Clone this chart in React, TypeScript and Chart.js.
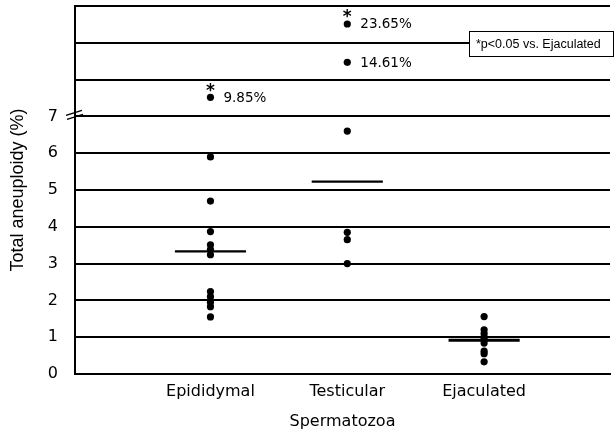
import React, { useEffect, useRef } from "react";
import { Chart, registerables } from "chart.js";

Chart.register(...registerables);

const categories = ["Epididymal", "Testicular", "Ejaculated"];
const epididymal = [9.85, 5.9, 4.7, 3.87, 3.51, 3.38, 3.24, 2.24, 2.1, 1.95, 1.83, 1.55];
const testicular = [23.65, 14.61, 6.6, 3.85, 3.65, 3.0];
const ejaculated = [1.56, 1.2, 1.1, 1.0, 0.93, 0.84, 0.62, 0.55, 0.33];
const medians = [3.33, 5.23, 0.92];
const yTickLabels = ["0", "1", "2", "3", "4", "5", "6", "7"];
// broken axis: real value knots -> display position knots
const breakReal = [7, 12.5, 17, 30];
const breakDisplay = [7, 8, 9, 10];
const labelledValues = [9.85, 14.61, 23.65];
const starredValues = [9.85, 23.65];
const noteText = "*p<0.05 vs. Ejaculated";
const yTitle = "Total aneuploidy (%)";
const xTitle = "Spermatozoa";

const groups = [epididymal, testicular, ejaculated];

function toDisplay(v: number): number {
  if (v <= breakReal[0]) return v;
  for (let i = 1; i < breakReal.length; i++) {
    if (v <= breakReal[i]) {
      const t = (v - breakReal[i - 1]) / (breakReal[i] - breakReal[i - 1]);
      return breakDisplay[i - 1] + t * (breakDisplay[i] - breakDisplay[i - 1]);
    }
  }
  return breakDisplay[breakDisplay.length - 1];
}

const annotPlugin = {
  id: "annot",
  afterDatasetsDraw(chart: any) {
    const ctx = chart.ctx;
    const xs = chart.scales.x;
    const ys = chart.scales.y;
    ctx.save();
    ctx.fillStyle = "#000";
    ctx.strokeStyle = "#000";
    groups.forEach((g, gi) => {
      g.forEach((v) => {
        const px = xs.getPixelForValue(gi + 1);
        const py = ys.getPixelForValue(toDisplay(v));
        if (labelledValues.includes(v)) {
          ctx.font = "13.5px 'DejaVu Sans'";
          ctx.textAlign = "left";
          ctx.textBaseline = "middle";
          ctx.fillText(v.toFixed(2) + "%", px + 13, py + 1);
        }
        if (starredValues.includes(v)) {
          ctx.font = "bold 17px 'DejaVu Sans'";
          ctx.textAlign = "center";
          ctx.textBaseline = "middle";
          ctx.fillText("*", px, py - 6);
        }
      });
    });
    // break mark on the y axis at 7
    const ax = chart.chartArea.left;
    const by = ys.getPixelForValue(breakReal[0]);
    ctx.lineWidth = 1.5;
    ctx.beginPath();
    ctx.moveTo(ax - 9, by - 1);
    ctx.lineTo(ax + 7, by - 6);
    ctx.moveTo(ax - 8, by + 3);
    ctx.lineTo(ax + 8, by - 2);
    ctx.stroke();
    // note box
    const bx = 469, bw = 144, byTop = 31, bh = 25;
    ctx.fillStyle = "#fff";
    ctx.fillRect(bx, byTop, bw, bh);
    ctx.lineWidth = 1;
    ctx.strokeStyle = "#000";
    ctx.strokeRect(bx + 0.5, byTop + 0.5, bw, bh);
    ctx.fillStyle = "#000";
    ctx.font = "12.5px 'Liberation Sans'";
    ctx.textAlign = "left";
    ctx.textBaseline = "middle";
    ctx.fillText(noteText, bx + 7, byTop + bh / 2 + 1);
    ctx.restore();
  },
};

export default function App() {
  const ref = useRef<HTMLCanvasElement | null>(null);
  useEffect(() => {
    if (!ref.current) return;
    const pointSets = groups.map((g, gi) => ({
      type: "scatter" as const,
      data: g.map((v) => ({ x: gi + 1, y: toDisplay(v) })),
      pointRadius: 3.6,
      pointBackgroundColor: "#000",
      pointBorderWidth: 0,
      showLine: false,
    }));
    const medianSets = medians.map((m, i) => ({
      type: "line" as const,
      data: [
        { x: i + 1 - 0.26, y: toDisplay(m) },
        { x: i + 1 + 0.26, y: toDisplay(m) },
      ],
      borderColor: "#000",
      borderWidth: i === 2 ? 3 : 2.2,
      pointRadius: 0,
      fill: false,
    }));
    const chart = new Chart(ref.current, {
      type: "scatter",
      data: { datasets: [...medianSets, ...pointSets] as any },
      options: {
        animation: false,
        responsive: false,
        layout: { padding: { top: 6, right: 0, left: 0, bottom: 0 } },
        plugins: { legend: { display: false }, tooltip: { enabled: false } },
        scales: {
          x: {
            type: "linear",
            min: 0.01,
            max: 3.92,
            afterBuildTicks: (s: any) => {
              s.ticks = categories.map((_, i) => ({ value: i + 1 }));
            },
            afterFit: (s: any) => {
              s.height = 57;
              s.paddingLeft = 0;
              s.paddingRight = 0;
            },
            ticks: {
              callback: (v: any) => categories[Number(v) - 1] ?? "",
              color: "#000",
              font: { family: "DejaVu Sans", size: 16 },
              padding: 8,
              maxRotation: 0,
              autoSkip: false,
            },
            grid: { display: false, drawTicks: false },
            border: { display: true, color: "#000", width: 2 },
            title: {
              display: true,
              text: xTitle,
              color: "#000",
              font: { family: "DejaVu Sans", size: 16 },
              padding: { top: 0, bottom: 0 },
            },
          },
          y: {
            type: "linear",
            min: 0,
            max: 10,
            afterBuildTicks: (s: any) => {
              const t = [];
              for (let i = 0; i <= 10; i++) t.push({ value: i });
              s.ticks = t;
            },
            afterFit: (s: any) => {
              s.width = 75;
              s.paddingTop = 0;
              s.paddingBottom = 0;
            },
            ticks: {
              callback: (v: any) => yTickLabels[Number(v)] ?? "",
              color: "#000",
              font: { family: "DejaVu Sans", size: 16 },
              padding: 17,
              autoSkip: false,
            },
            grid: { color: "#000", lineWidth: 2, drawTicks: false },
            border: { display: true, color: "#000", width: 2 },
            title: {
              display: true,
              text: yTitle,
              color: "#000",
              font: { family: "Liberation Sans", size: 18 },
              padding: { top: 7, bottom: 0 },
            },
          },
        },
      },
      plugins: [annotPlugin],
    });
    return () => chart.destroy();
  }, []);
  return (
    <div style={{ position: "absolute", left: 0, top: 0, width: 614, height: 431, background: "#fff" }}>
      <canvas ref={ref} width={614} height={431} style={{ width: 614, height: 431 }} />
    </div>
  );
}
